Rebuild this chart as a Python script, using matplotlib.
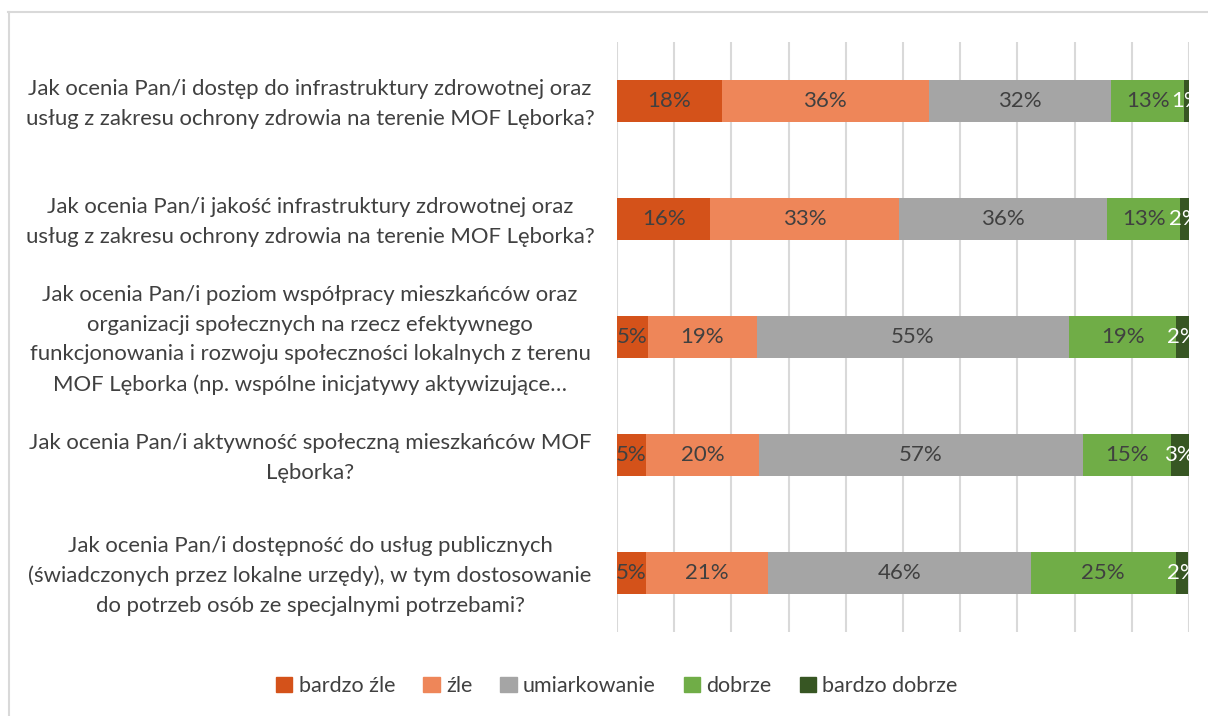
import matplotlib
matplotlib.use("Agg")
import matplotlib.pyplot as plt
from matplotlib.lines import Line2D
import matplotlib.transforms as mtransforms

plt.rcParams['font.family'] = ['Lato', 'DejaVu Sans']

categories = [
    "Jak ocenia Pan/i dostęp do infrastruktury zdrowotnej oraz\nusług z zakresu ochrony zdrowia na terenie MOF Lęborka?",
    "Jak ocenia Pan/i jakość infrastruktury zdrowotnej oraz\nusług z zakresu ochrony zdrowia na terenie MOF Lęborka?",
    "Jak ocenia Pan/i poziom współpracy mieszkańców oraz\norganizacji społecznych na rzecz efektywnego\nfunkcjonowania i rozwoju społeczności lokalnych z terenu\nMOF Lęborka (np. wspólne inicjatywy aktywizujące…",
    "Jak ocenia Pan/i aktywność społeczną mieszkańców MOF\nLęborka?",
    "Jak ocenia Pan/i dostępność do usług publicznych\n(świadczonych przez lokalne urzędy), w tym dostosowanie\ndo potrzeb osób ze specjalnymi potrzebami?",
]
series_names = ["bardzo źle", "źle", "umiarkowanie", "dobrze", "bardzo dobrze"]
bardzo_zle = [18.3, 16.3, 5.4, 5.1, 5.1]
zle = [36.2, 33.0, 19.0, 19.7, 21.3]
umiarkowanie = [31.9, 36.4, 54.6, 56.6, 45.9]
dobrze = [12.7, 12.8, 18.8, 15.4, 25.4]
bardzo_dobrze = [0.9, 1.5, 2.2, 3.2, 2.2]
colors = ["#D4521A", "#EE8659", "#A5A5A5", "#70AD47", "#375623"]
label_colors = ["#404040", "#404040", "#404040", "#404040", "#FFFFFF"]

series = [bardzo_zle, zle, umiarkowanie, dobrze, bardzo_dobrze]

fig = plt.figure(figsize=(12.08, 7.16), dpi=100)
ax = fig.add_axes([617/1208, 1-632/716, 572/1208, 590/716])

ypos = list(range(len(categories)))
left = [0.0]*len(categories)
for vals, name, col, lc in zip(series, series_names, colors, label_colors):
    bars = ax.barh(ypos, vals, left=left, height=0.36, color=col, label=name, zorder=2)
    for b, v in zip(bars, vals):
        t = ax.text(b.get_x() + b.get_width()/2, b.get_y() + b.get_height()/2,
                    f"{round(v)}%", ha='center', va='center', color=lc,
                    fontsize=16, zorder=3)
        t.set_clip_on(True)
    left = [l + v for l, v in zip(left, vals)]

ax.set_xlim(0, 100)
ax.set_ylim(4.5, -0.5)
ax.set_xticks(range(0, 101, 10))
ax.xaxis.grid(True, color="#D9D9D9", linewidth=1.5, zorder=0)
ax.tick_params(axis='x', length=0, labelbottom=False)
ax.set_yticks(ypos)
ax.set_yticklabels([])
ax.tick_params(axis='y', length=0)
label_x = (310 - 617) / 572
label_tr = mtransforms.offset_copy(ax.get_yaxis_transform(), fig=fig, x=0, y=-3, units='dots')
for y, lab in zip(ypos, categories):
    ax.text(label_x, y, lab, transform=label_tr, ha='center', va='center',
            multialignment='center', fontsize=15.9, color="#404040", linespacing=1.62)
for s in ax.spines.values():
    s.set_visible(False)
ax.set_axisbelow(True)

handles = [plt.Rectangle((0, 0), 1, 1, color=c) for c in colors]
fig.legend(handles, series_names, loc='center', bbox_to_anchor=(617/1208, 1-686/716),
           ncol=5, frameon=False, fontsize=15.5, labelcolor="#404040",
           handlelength=0.75, handleheight=0.75, handletextpad=0.3, columnspacing=1.3)

# chart frame
fig.add_artist(Line2D([8/1208, 1.0], [1-12/716, 1-12/716], color="#D9D9D9", linewidth=1.5, transform=fig.transFigure))
fig.add_artist(Line2D([8.5/1208, 8.5/1208], [0, 1-12/716], color="#D9D9D9", linewidth=1.5, transform=fig.transFigure))

fig.savefig("out.png", dpi=100)
